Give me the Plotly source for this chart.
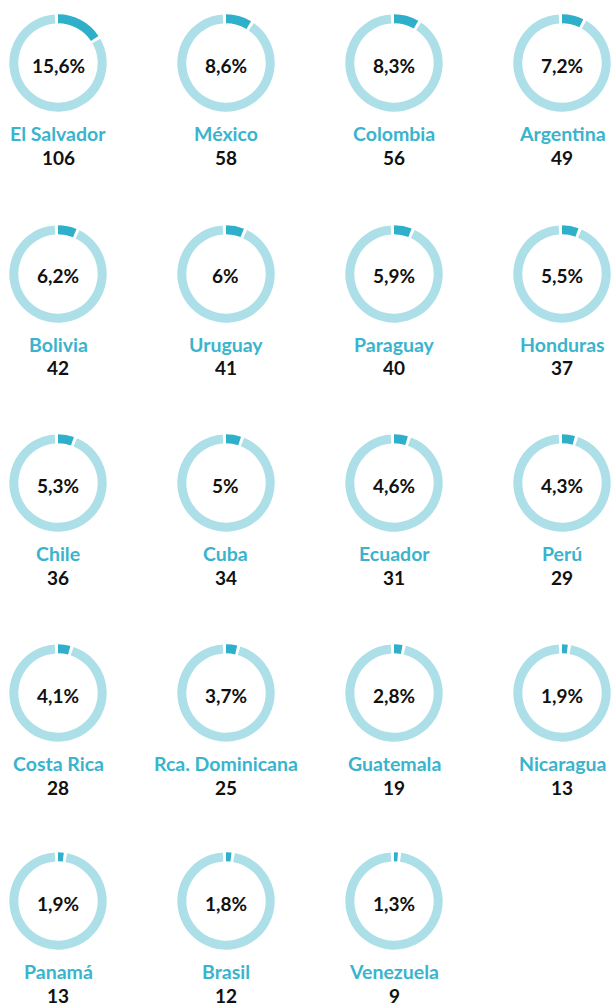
import plotly.graph_objects as go

countries = ["El Salvador", "México", "Colombia", "Argentina",
             "Bolivia", "Uruguay", "Paraguay", "Honduras",
             "Chile", "Cuba", "Ecuador", "Perú",
             "Costa Rica", "Rca. Dominicana", "Guatemala", "Nicaragua",
             "Panamá", "Brasil", "Venezuela"]
pct_values = [15.6, 8.6, 8.3, 7.2,
              6.2, 6.0, 5.9, 5.5,
              5.3, 5.0, 4.6, 4.3,
              4.1, 3.7, 2.8, 1.9,
              1.9, 1.8, 1.3]
pct_labels = ["15,6%", "8,6%", "8,3%", "7,2%",
              "6,2%", "6%", "5,9%", "5,5%",
              "5,3%", "5%", "4,6%", "4,3%",
              "4,1%", "3,7%", "2,8%", "1,9%",
              "1,9%", "1,8%", "1,3%"]
counts = [106, 58, 56, 49,
          42, 41, 40, 37,
          36, 34, 31, 29,
          28, 25, 19, 13,
          13, 12, 9]

W, H = 611, 1005
COL_X = [58, 226, 394, 562]
ROW_Y = [63, 274, 483, 693, 901]
R = 48.7
HOLE = 0.815
GAP = 1.1

DARK = "#2EAFCA"
LIGHT = "#ADDFE8"
TEAL = "#3AB4CD"
FONT = "Lato"

fig = go.Figure()
annotations = []
for i, (name, p, lab, c) in enumerate(zip(countries, pct_values, pct_labels, counts)):
    cx = COL_X[i % 4]
    cy = ROW_Y[i // 4]
    fig.add_trace(go.Pie(
        values=[p, GAP, 100 - p - 2 * GAP, GAP],
        marker=dict(colors=[DARK, "rgba(0,0,0,0)", LIGHT, "rgba(0,0,0,0)"],
                    line=dict(width=0)),
        hole=HOLE,
        sort=False,
        direction="clockwise",
        rotation=0,
        textinfo="none",
        hoverinfo="skip",
        showlegend=False,
        domain=dict(x=[(cx - R) / W, (cx + R) / W],
                    y=[1 - (cy + R) / H, 1 - (cy - R) / H]),
    ))
    annotations.append(dict(
        x=cx / W, y=1 - (cy + 2) / H, xref="paper", yref="paper",
        text=lab, showarrow=False, xanchor="center", yanchor="middle",
        font=dict(family=FONT, size=19, color="#111111", weight="bold")))
    annotations.append(dict(
        x=cx / W, y=1 - (cy + 70) / H, xref="paper", yref="paper",
        text=name, showarrow=False, xanchor="center", yanchor="middle",
        font=dict(family=FONT, size=19.5, color=TEAL, weight="bold")))
    annotations.append(dict(
        x=cx / W, y=1 - (cy + 94) / H, xref="paper", yref="paper",
        text=str(c), showarrow=False, xanchor="center", yanchor="middle",
        font=dict(family=FONT, size=19, color="#111111", weight="bold")))

fig.update_layout(
    width=W, height=H,
    margin=dict(l=0, r=0, t=0, b=0),
    paper_bgcolor="white",
    plot_bgcolor="white",
    annotations=annotations,
)

fig.write_html("out.html",
               config={"displayModeBar": False},
               post_script="document.body.style.margin='0';document.body.style.padding='0';")
